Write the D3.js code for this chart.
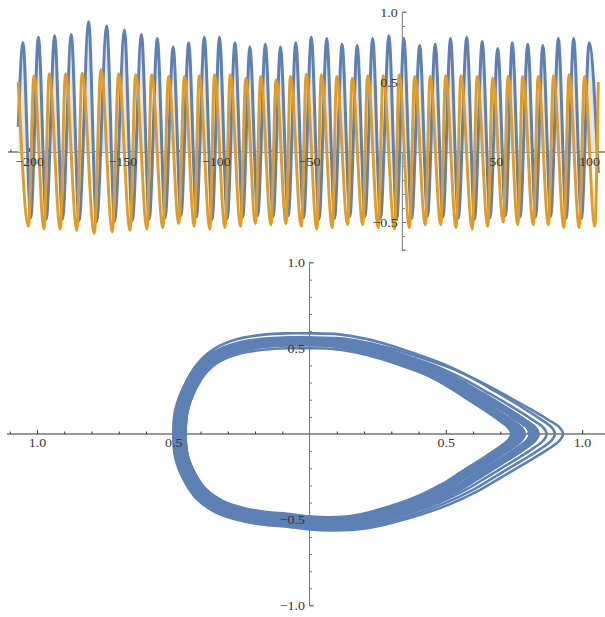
<!DOCTYPE html>
<html>
<head>
<meta charset="utf-8">
<script src="https://cdn.jsdelivr.net/npm/d3@7"></script>
<style>
  html, body { margin: 0; padding: 0; background: #fff; }
  svg { display: block; }
  .tick text { font-family: "Liberation Serif", "DejaVu Serif", serif; font-size: 12.5px; fill: #333; }
</style>
</head>
<body>
<svg id="chart" width="605" height="617"></svg>
<script>
// ---- time series: turning points of x(t) (blue) and y(t) (orange) ----
const blueStart = [-205.8, 0.18];
const blueEnd = [105.0, -0.15];
const bluePeakT = [-203.3, -195.0, -186.3, -177.4, -168.1, -158.4, -148.9, -139.8, -131.3, -122.8,
  -114.5, -106.1, -98.0, -89.7, -81.7, -73.4, -65.3, -57.1, -48.8, -40.5, -32.3, -24.2, -15.9, -7.2,
  0.8, 9.3, 17.6, 25.8, 34.5, 42.8, 51.1, 58.9, 67.2, 75.3, 83.6, 91.8, 100.1];
const bluePeak = [0.78, 0.82, 0.83, 0.84, 0.93, 0.90, 0.87, 0.84, 0.81, 0.75, 0.78, 0.82, 0.82, 0.78,
  0.75, 0.77, 0.75, 0.78, 0.82, 0.81, 0.77, 0.76, 0.81, 0.83, 0.81, 0.76, 0.77, 0.81, 0.82, 0.79,
  0.74, 0.78, 0.77, 0.76, 0.81, 0.81, 0.78];
const blueTroughT = [-199.1, -190.8, -182.1, -173.2, -163.9, -154.2, -144.7, -135.6, -127.1, -118.6,
  -110.3, -101.9, -93.8, -85.5, -77.5, -69.2, -61.1, -52.9, -44.6, -36.3, -28.1, -20.0, -11.7, -3.0,
  5.0, 13.5, 21.8, 30.0, 38.7, 47.0, 55.3, 63.1, 71.4, 79.5, 87.8, 96.0];
const blueTrough = [-0.47, -0.48, -0.48, -0.49, -0.50, -0.495, -0.49, -0.48, -0.47, -0.455, -0.465,
  -0.48, -0.475, -0.465, -0.455, -0.46, -0.455, -0.47, -0.48, -0.475, -0.46, -0.46, -0.475, -0.485,
  -0.475, -0.46, -0.465, -0.475, -0.48, -0.47, -0.455, -0.465, -0.465, -0.46, -0.475, -0.475];

const orangeEnd = [105.0, 0.50];
const orangePeakT = [-205.8, -197.4, -189.2, -180.5, -171.6, -161.5, -152.0, -142.9, -134.4, -125.3,
  -116.8, -108.8, -100.7, -92.2, -83.9, -75.9, -67.6, -60.0, -51.5, -43.4, -35.2, -26.9, -18.6, -10.3,
  -1.7, 6.6, 14.9, 23.2, 31.4, 40.1, 48.4, 56.6, 64.5, 72.8, 81.0, 89.3, 97.6];
const orangePeak = [0.50, 0.544, 0.559, 0.559, 0.563, 0.587, 0.559, 0.551, 0.551, 0.539, 0.539, 0.544,
  0.551, 0.551, 0.527, 0.539, 0.516, 0.539, 0.556, 0.551, 0.539, 0.527, 0.544, 0.544, 0.551, 0.539,
  0.539, 0.544, 0.544, 0.539, 0.527, 0.539, 0.539, 0.539, 0.544, 0.551, 0.539];
const orangeTroughT = [-200.3, -192.0, -183.3, -174.4, -165.1, -155.4, -145.9, -136.8, -128.3, -119.8,
  -111.5, -103.1, -95.0, -86.7, -78.7, -70.4, -62.3, -54.1, -45.8, -37.5, -29.3, -21.2, -12.9, -4.2,
  3.8, 12.3, 20.6, 28.8, 37.5, 45.8, 54.1, 61.9, 70.2, 78.3, 86.6, 94.8, 103.1];
const orangeTrough = [-0.53, -0.55, -0.55, -0.56, -0.58, -0.57, -0.56, -0.55, -0.54, -0.51, -0.53,
  -0.55, -0.54, -0.53, -0.51, -0.52, -0.51, -0.53, -0.55, -0.54, -0.52, -0.52, -0.54, -0.55, -0.54,
  -0.52, -0.52, -0.54, -0.55, -0.53, -0.50, -0.52, -0.52, -0.52, -0.54, -0.54, -0.53];

// ---- phase portrait: normalised orbit outline (u = x / extreme, v = y / extreme), clockwise from left ----
const loopU = [-1, -0.985, -0.92, -0.83, -0.70, -0.54, -0.35, -0.17, 0,
  0.12, 0.22, 0.33, 0.44, 0.55, 0.66, 0.76, 0.87, 0.94, 0.985, 1,
  0.985, 0.94, 0.87, 0.76, 0.66, 0.55, 0.44, 0.33, 0.22, 0.10, 0,
  -0.18, -0.35, -0.54, -0.70, -0.83, -0.92, -0.985];
const loopV = [0, 0.25, 0.50, 0.70, 0.85, 0.94, 0.985, 1.0, 1.0,
  0.99, 0.95, 0.88, 0.79, 0.69, 0.56, 0.42, 0.26, 0.15, 0.07, 0,
  -0.07, -0.155, -0.265, -0.43, -0.58, -0.71, -0.81, -0.89, -0.95, -0.97, -0.96,
  -0.93, -0.91, -0.86, -0.78, -0.65, -0.47, -0.24];

// ---- axis ticks and labels ----
const topXMajor = [-200, -150, -100, -50, 50, 100];
const topXLabels = ["\u2212200", "\u2212150", "\u2212100", "\u221250", "50", "100"];
const topYMajor = [1.0, 0.5, -0.5];
const topYLabels = ["1.0", "0.5", "\u22120.5"];
const botXMajor = [-1.0, -0.5, 0.5, 1.0];
const botXLabels = ["1.0", "0.5", "0.5", "1.0"];
const botYMajor = [1.0, 0.5, -0.5, -1.0];
const botYLabels = ["1.0", "0.5", "\u22120.5", "\u22121.0"];

const BLUE = "#5e81b5", ORANGE = "#e19c24", FILL = "#dfe6f0";
const AXIS_X = "#333", AXIS_Y = "#777";

const svg = d3.select("#chart");

// scales
const xT = d3.scaleLinear().domain([-211.3, 108.6]).range([8, 605]);
const yT = d3.scaleLinear().domain([-0.7, 1.0]).range([250, 12]);
const xB = d3.scaleLinear().domain([-1.11, 1.084]).range([7, 605]);
const yB = d3.scaleLinear().domain([-1.0, 1.0]).range([605.5, 262.5]);

function series(start, pT, pV, tT, tV, end) {
  const pts = [];
  if (start) pts.push(start);
  pT.forEach((t, i) => pts.push([t, pV[i]]));
  tT.forEach((t, i) => pts.push([t, tV[i]]));
  pts.push(end);
  return pts.sort((a, b) => a[0] - b[0]);
}
const bluePts = series(blueStart, bluePeakT, bluePeak, blueTroughT, blueTrough, blueEnd);
const orangePts = series(null, orangePeakT, orangePeak, orangeTroughT, orangeTrough, orangeEnd);

// axis lines and tick marks (ticks on the positive side)
function axisLines(xs, ys, xMinor, xMajor, yMinor, yMajor, xRange, yRange) {
  const gx = svg.append("g").attr("transform", `translate(0,${ys(0)})`);
  gx.call(d3.axisTop(xs).tickValues(xMinor).tickSize(2.5).tickFormat(""));
  gx.append("g").call(d3.axisTop(xs).tickValues(xMajor).tickSize(4).tickFormat(""))
    .select(".domain").remove();
  gx.select(".domain").attr("d", `M${xRange[0]},0H${xRange[1]}`).attr("stroke", AXIS_X);
  gx.selectAll("line").attr("stroke", AXIS_X);

  const gy = svg.append("g").attr("transform", `translate(${xs(0)},0)`);
  gy.call(d3.axisRight(ys).tickValues(yMinor).tickSize(2.5).tickFormat(""));
  gy.append("g").call(d3.axisRight(ys).tickValues(yMajor).tickSize(4).tickFormat(""))
    .select(".domain").remove();
  gy.select(".domain").attr("d", `M4,${yRange[0]}H0V${yRange[1]}H4`).attr("stroke", AXIS_Y);
  gy.selectAll("line").attr("stroke", AXIS_Y);
}

// tick labels, drawn above the data
function axisLabels(xs, ys, xMajor, xLabels, yMajor, yLabels, dyX) {
  const gx = svg.append("g").attr("transform", `translate(0,${ys(0)})`);
  gx.call(d3.axisBottom(xs).tickValues(xMajor).tickSize(0).tickPadding(dyX)
    .tickFormat((d, i) => xLabels[i]));
  gx.select(".domain").remove();
  const gy = svg.append("g").attr("transform", `translate(${xs(0)},0)`);
  gy.call(d3.axisLeft(ys).tickValues(yMajor).tickSize(0).tickPadding(4)
    .tickFormat((d, i) => yLabels[i]));
  gy.select(".domain").remove();
  svg.selectAll(".tick text").attr("transform", "scale(1.12,1)");
}

// ---------------- top panel ----------------
const topXMinor = d3.range(-210, 110, 10).filter(v => v !== 0 && v % 50 !== 0);
const topYMinor = d3.range(-7, 11, 1).map(v => v / 10).filter(v => v !== 0 && Math.abs(v * 10) % 5 !== 0);
axisLines(xT, yT, topXMinor, topXMajor, topYMinor, topYMajor, [8, 605], [yT(-0.7), yT(1.0)]);

const lineT = d3.line().x(d => xT(d[0])).y(d => yT(d[1])).curve(d3.curveMonotoneX);
const areaT = d3.area().x(d => xT(d[0])).y0(yT(0)).y1(d => yT(d[1])).curve(d3.curveMonotoneX);

svg.append("path").attr("d", areaT(bluePts)).attr("fill", FILL);
svg.append("path").attr("d", lineT(bluePts)).attr("fill", "none")
  .attr("stroke", BLUE).attr("stroke-width", 3);
svg.append("path").attr("d", lineT(orangePts)).attr("fill", "none")
  .attr("stroke", ORANGE).attr("stroke-width", 3);

axisLabels(xT, yT, topXMajor, topXLabels, topYMajor, topYLabels, 5);

// ---------------- bottom panel ----------------
const botXMinor = d3.range(-11, 11, 1).map(v => v / 10).filter(v => v !== 0 && Math.abs(v * 10) % 5 !== 0);
const botYMinor = d3.range(-10, 11, 1).map(v => v / 10).filter(v => v !== 0 && Math.abs(v * 10) % 5 !== 0);
axisLines(xB, yB, botXMinor, botXMajor, botYMinor, botYMajor, [7, 605], [yB(-1.0), yB(1.0)]);

const loopLine = d3.line().x(d => xB(d[0])).y(d => yB(d[1])).curve(d3.curveCatmullRomClosed.alpha(0.5));
const nLoops = blueTrough.length;
for (let k = 0; k < nLoops; k++) {
  const pts = loopU.map((u, i) => {
    const v = loopV[i];
    return [u >= 0 ? u * bluePeak[k] : u * Math.abs(blueTrough[k]),
            v >= 0 ? v * orangePeak[k] : v * Math.abs(orangeTrough[k])];
  });
  svg.append("path").attr("d", loopLine(pts)).attr("fill", "none")
    .attr("stroke", BLUE).attr("stroke-width", 2.6);
}

axisLabels(xB, yB, botXMajor, botXLabels, botYMajor, botYLabels, 4);
</script>
</body>
</html>
